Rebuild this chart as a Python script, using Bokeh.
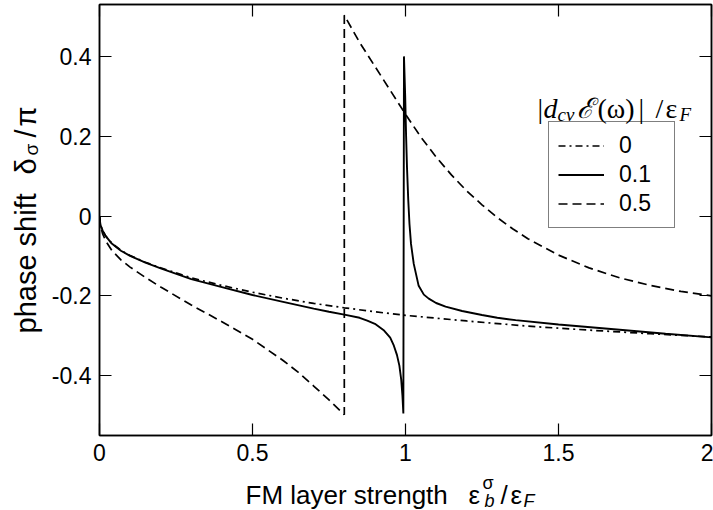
import math
from bokeh.plotting import figure
from bokeh.models import (Range1d, LinearAxis, FixedTicker, CustomJSTickFormatter,
                          Legend, LegendItem, GridBox)
from bokeh.core.properties import value
from bokeh.embed import file_html
from bokeh.resources import INLINE

# ---------------- data ----------------
x_ticks = [0, 0.5, 1, 1.5, 2]
x_tick_labels = ["0", "0.5", "1", "1.5", "2"]
y_ticks = [-0.4, -0.2, 0, 0.2, 0.4]
y_tick_labels = ["-0.4", "-0.2", "0", "0.2", "0.4"]

series_names = ["0", "0.1", "0.5"]

# |d E|/eF = 0  (dash-dot)
x_s0 = [0, 0.003, 0.01, 0.02, 0.04, 0.07, 0.1, 0.15, 0.2, 0.3, 0.4, 0.5, 0.6, 0.7,
        0.8, 0.9, 1.0, 1.2, 1.4, 1.6, 1.8, 2.0]
y_s0 = [0, -0.022, -0.036, -0.05, -0.068, -0.086, -0.099, -0.116, -0.130, -0.155,
        -0.174, -0.191, -0.206, -0.219, -0.230, -0.240, -0.249, -0.263, -0.276,
        -0.286, -0.295, -0.303]

# |d E|/eF = 0.1  (solid)
x_s1 = [0, 0.003, 0.01, 0.02, 0.04, 0.07, 0.1, 0.15, 0.2, 0.3, 0.4, 0.5, 0.6, 0.7,
        0.75, 0.8, 0.85, 0.875, 0.9, 0.93, 0.95, 0.962, 0.972, 0.98, 0.986, 0.99,
        0.993, 0.995, 0.999, 1.002, 1.005, 1.009, 1.013, 1.018, 1.027, 1.043, 1.06,
        1.076, 1.1, 1.131, 1.185, 1.25, 1.3, 1.36, 1.5, 1.7, 1.85, 2.0]
y_s1 = [0, -0.022, -0.036, -0.05, -0.069, -0.087, -0.100, -0.117, -0.131, -0.158,
        -0.178, -0.198, -0.215, -0.232, -0.240, -0.247, -0.255, -0.262, -0.270,
        -0.287, -0.305, -0.325, -0.348, -0.375, -0.41, -0.45, -0.495, 0.40, 0.30,
        0.20, 0.12, 0.04, -0.02, -0.07, -0.12, -0.175, -0.197, -0.207, -0.218,
        -0.227, -0.238, -0.248, -0.255, -0.261, -0.272, -0.285, -0.295, -0.304]

# |d E|/eF = 0.5  (dashed)
x_s5 = [0, 0.003, 0.01, 0.02, 0.04, 0.07, 0.1, 0.15, 0.2, 0.3, 0.4, 0.5, 0.6, 0.65,
        0.7, 0.75, 0.8, 0.8, 0.85, 0.9, 0.95, 1.0, 1.05, 1.1, 1.15, 1.2, 1.25, 1.3,
        1.35, 1.4, 1.5, 1.6, 1.7, 1.8, 1.9, 2.0]
y_s5 = [0, -0.024, -0.044, -0.062, -0.086, -0.11, -0.128, -0.154, -0.178, -0.223,
        -0.265, -0.309, -0.362, -0.392, -0.426, -0.461, -0.498, 0.503, 0.435, 0.375,
        0.315, 0.255, 0.198, 0.148, 0.103, 0.063, 0.028, -0.004, -0.032, -0.057,
        -0.098, -0.130, -0.155, -0.174, -0.189, -0.200]

# ---------------- main figure ----------------
SANS = "Liberation Sans"
SERIF = "Liberation Serif"
W, H = 713, 510

p = figure(width=W, height=H, output_backend="svg", toolbar_location=None,
           x_range=Range1d(0, 2), y_range=Range1d(-0.55, 0.53),
           x_axis_type=None, y_axis_type=None,
           min_border_left=99, min_border_right=2, min_border_top=4,
           min_border_bottom=75)
p.grid.visible = False
p.outline_line_color = "black"
p.outline_line_width = 1.5
p.background_fill_color = "white"
p.border_fill_color = "white"


def make_fmt(ticks, labels):
    return CustomJSTickFormatter(args=dict(t=ticks, l=labels), code="""
        for (let i = 0; i < t.length; i++) {
            if (Math.abs(t[i] - tick) < 1e-6) return l[i];
        }
        return "";
    """)


def make_axis(ticks, labels, show):
    ax = LinearAxis(ticker=FixedTicker(ticks=ticks), axis_label=None)
    ax.major_tick_in = 12
    ax.major_tick_out = 0
    ax.minor_tick_in = 0
    ax.minor_tick_out = 0
    ax.major_tick_line_color = "black"
    ax.major_tick_line_width = 1.2
    ax.axis_line_color = "black"
    ax.axis_line_width = 1.5
    if show:
        ax.formatter = make_fmt(ticks, labels)
        ax.major_label_text_font = SANS
        ax.major_label_text_font_size = "23px"
        ax.major_label_text_color = "black"
        ax.major_label_standoff = 8
    else:
        ax.major_label_text_font_size = "0px"
        ax.major_label_standoff = 0
    return ax


p.add_layout(make_axis(x_ticks, x_tick_labels, True), "below")
p.add_layout(make_axis(y_ticks, y_tick_labels, True), "left")
p.add_layout(make_axis(x_ticks, x_tick_labels, False), "above")
p.add_layout(make_axis(y_ticks, y_tick_labels, False), "right")

r0 = p.line(x_s0, y_s0, line_color="black", line_width=1.7, line_dash="7 4 2 4")
r1 = p.line(x_s1, y_s1, line_color="black", line_width=1.9)
r5 = p.line(x_s5, y_s5, line_color="black", line_width=1.7, line_dash="9 5")

legend = Legend(items=[LegendItem(label=series_names[0], renderers=[r0]),
                       LegendItem(label=series_names[1], renderers=[r1]),
                       LegendItem(label=series_names[2], renderers=[r5])],
                location=(449, 207))
legend.border_line_color = "black"
legend.border_line_width = 1.2
legend.background_fill_color = "white"
legend.background_fill_alpha = 1.0
legend.padding = 9
legend.spacing = 0
legend.margin = 0
legend.glyph_width = 46
legend.glyph_height = 29
legend.label_height = 29
legend.label_width = 46
legend.label_standoff = 15
legend.label_text_font = SANS
legend.label_text_font_size = "23px"
legend.label_text_color = "black"
p.add_layout(legend, "center")

# ---------------- text overlay (axis titles with sub/superscripts) ----------------
q = figure(width=W, height=H, output_backend="svg", toolbar_location=None,
           x_range=Range1d(0, W), y_range=Range1d(0, H), title=None,
           x_axis_type=None, y_axis_type=None, min_border=0)
q.grid.visible = False
q.outline_line_color = None
q.background_fill_color = None
q.border_fill_color = None

# keep the overlay's frame independent of the main figure's frame
for fig in (p, q):
    try:
        fig.frame_align = False
    except Exception:
        pass


def lab(text, cx, cy, size, font=SANS, style="normal", angle=0.0):
    q.text(x=[cx], y=[H - cy], text=[text], text_font=value(font),
           text_font_size=value(f"{size}px"), text_font_style=style,
           text_color="black", text_align="left", text_baseline="alphabetic",
           angle=angle)


# y axis title (rotated)
A = math.pi / 2
lab("phase shift", 25, 333, 29, angle=A)
lab("δ", 25, 174, 29, angle=A)
lab("σ", 31, 155, 19, angle=A)
lab("/", 25, 137, 29, angle=A)
lab("π", 25, 126, 29, angle=A)

# x axis title
lab("FM layer strength", 245, 494, 26)
lab("ε", 468, 494, 26)
lab("σ", 482, 482, 18)
lab("b", 484, 500, 18, style="italic")
lab("/", 500, 494, 26)
lab("ε", 510, 494, 26)
lab("F", 523, 500, 18, style="italic")

# legend title
lab("|", 537, 108, 28, font=SERIF)
lab("d", 543, 108, 28, font=SERIF, style="italic")
lab("cv", 557, 114, 19, font=SERIF, style="italic")
lab("ℰ", 576, 108, 28, font=SERIF, style="italic")
lab("(ω)", 597, 108, 28, font=SERIF)
lab("|", 638, 108, 28, font=SERIF)
lab("/", 655, 108, 28, font=SERIF)
lab("ε", 665, 108, 28, font=SERIF)
lab("F", 679, 114, 19, font=SERIF, style="italic")

layout = GridBox(children=[(p, 0, 0), (q, 0, 0)])

open("out.html", "w").write(file_html(layout, INLINE))
